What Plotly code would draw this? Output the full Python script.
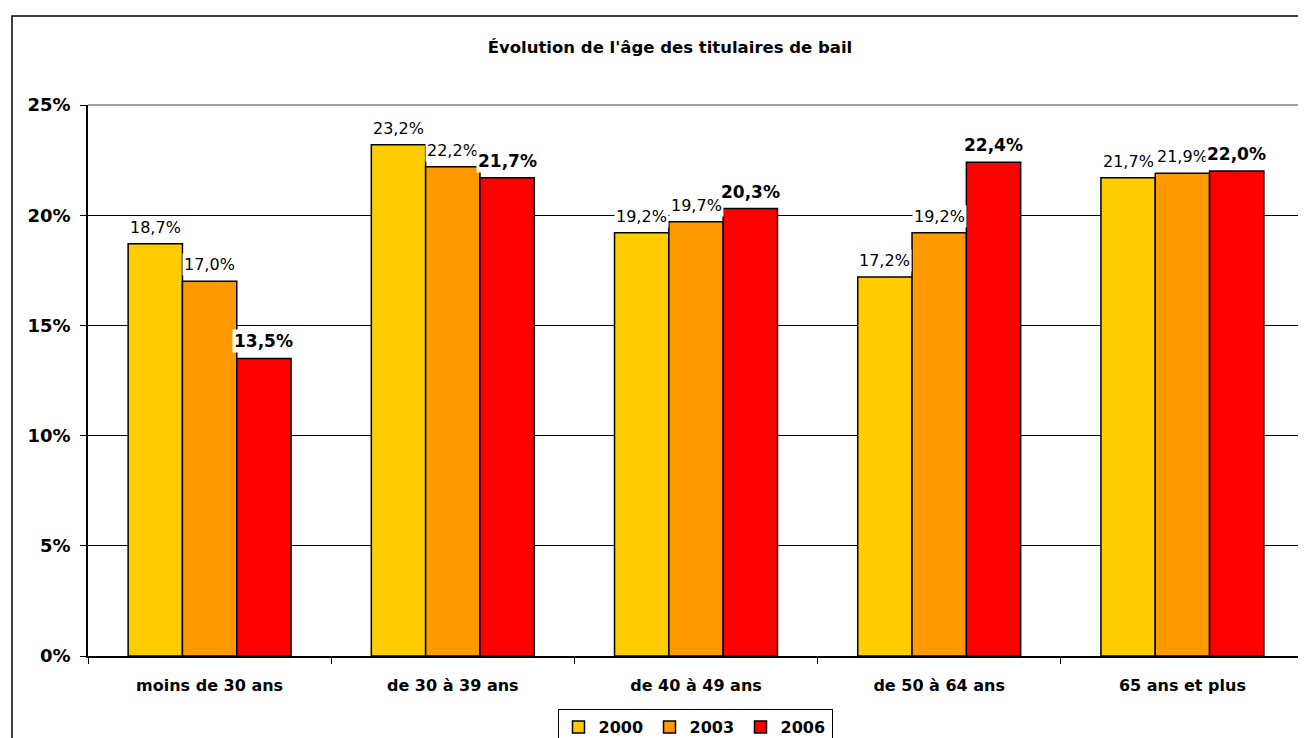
import plotly.graph_objects as go

categories = ["moins de 30 ans", "de 30 à 39 ans", "de 40 à 49 ans", "de 50 à 64 ans", "65 ans et plus"]
years = ["2000", "2003", "2006"]
v2000 = [0.187, 0.232, 0.192, 0.172, 0.217]
v2003 = [0.170, 0.222, 0.197, 0.192, 0.219]
v2006 = [0.135, 0.217, 0.203, 0.224, 0.220]
ytick_vals = [0, 0.05, 0.10, 0.15, 0.20, 0.25]
ytick_text = ["0%", "5%", "10%", "15%", "20%", "25%"]
colors = ["#FFCC00", "#FF9900", "#FF0000"]
series = [v2000, v2003, v2006]

# page body has an 8px margin, so the figure is 8px smaller and shifted
W, H = 1298, 730
ML, MR, MT, MB = 80, 2, 97, 82
PW = W - ML - MR
PH = H - MT - MB
BARGAP = 0.33
FONT = "DejaVu Sans"

fig = go.Figure()
for yr, vals, col in zip(years, series, colors):
    fig.add_trace(go.Bar(
        x=categories, y=vals, name=f"<b>{yr}</b>",
        marker=dict(color=col, line=dict(color="black", width=1.5)),
    ))

cat_px = PW / len(categories)
bar_px = cat_px * (1 - BARGAP) / len(years)
annotations = []
for i, (vals, yr) in enumerate(zip(series, years)):
    off = (i - 1) * bar_px
    bold = (yr == "2006")
    for c, v in zip(categories, vals):
        txt = f"{v*100:.1f}%".replace(".", ",")
        annotations.append(dict(
            x=c, y=v, xref="x", yref="y", text=f"<b>{txt}</b>" if bold else txt,
            showarrow=False, xshift=off, yshift=5, yanchor="bottom",
            bgcolor="white", borderpad=1,
            font=dict(family=FONT, size=17 if bold else 16, color="black"),
        ))

fig.update_layout(
    width=W, height=H,
    margin=dict(l=ML, r=MR, t=MT, b=MB, autoexpand=False),
    paper_bgcolor="white", plot_bgcolor="white",
    barmode="group", bargap=BARGAP, bargroupgap=0,
    title=dict(text="<b>Évolution de l'âge des titulaires de bail</b>",
               x=662 / W, xanchor="center", xref="container",
               y=1 - 39 / H, yanchor="middle", yref="container",
               font=dict(family=FONT, size=16.5, color="black")),
    font=dict(family=FONT, color="black"),
    showlegend=True,
    legend=dict(orientation="h", x=(687 - ML) / PW, xanchor="center",
                y=-(701 - (H - MB)) / PH, yanchor="top",
                bordercolor="black", borderwidth=1, bgcolor="white",
                font=dict(family=FONT, size=16, color="black"),
                itemwidth=30, entrywidth=46, traceorder="normal"),
    annotations=annotations,
    shapes=[
        dict(type="line", xref="paper", yref="paper", x0=0, x1=1, y0=1, y1=1,
             line=dict(color="#808080", width=1.5), layer="above"),
        dict(type="line", xref="paper", yref="paper", x0=1, x1=1, y0=0, y1=1,
             line=dict(color="#808080", width=1.5), layer="above"),
        dict(type="rect", xref="paper", yref="paper",
             x0=(4 - ML) / PW, x1=1.05, y0=-0.3, y1=(H - MB - 8) / PH,
             line=dict(color="black", width=1.5), layer="below"),
    ],
)
fig.update_xaxes(
    type="category", showgrid=False, showline=True, linecolor="black", linewidth=1.5,
    ticks="outside", tickson="boundaries", ticklen=6, tickcolor="black",
    tickfont=dict(family=FONT, size=16, color="black"),
    ticklabelstandoff=14, automargin=False,
    tickvals=categories, ticktext=[f"<b>{c}</b>" for c in categories],
)
fig.update_yaxes(
    range=[0, 0.25], tickvals=ytick_vals, ticktext=[f"<b>{t}</b>" for t in ytick_text],
    showgrid=True, gridcolor="black", gridwidth=1,
    showline=True, linecolor="black", linewidth=1.5,
    ticks="outside", ticklen=6, tickcolor="black",
    tickfont=dict(family=FONT, size=18, color="black"),
    ticklabelstandoff=6, zeroline=False, automargin=False,
)

fig.write_html("out.html")
